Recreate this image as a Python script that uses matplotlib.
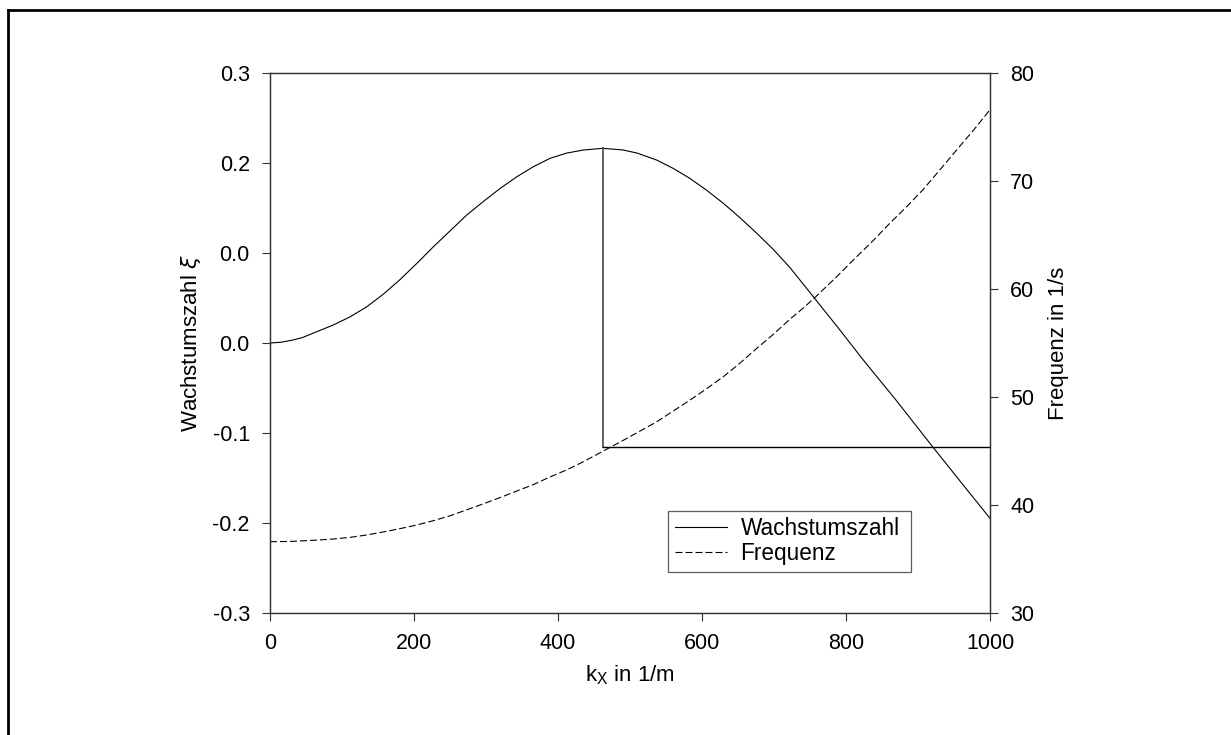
import matplotlib.pyplot as plt
from matplotlib.lines import Line2D

plt.rcParams['font.family'] = ['Liberation Sans', 'DejaVu Sans']
plt.rcParams['lines.scale_dashes'] = False

# growth rate (left axis)
kx_xi = [0, 15, 30, 45, 65, 88, 111, 134, 157, 180, 204, 227, 250, 273, 296, 320, 343, 366,
         389, 412, 435, 462, 490, 510, 537, 560, 583, 606, 630, 653, 676, 699, 722, 740,
         755, 790, 824, 870, 921, 960, 1000]
xi = [0.0, 0.0008, 0.003, 0.006, 0.0126, 0.02, 0.029, 0.04, 0.054, 0.07, 0.0885, 0.107,
      0.1245, 0.142, 0.157, 0.172, 0.1848, 0.196, 0.2052, 0.211, 0.2144, 0.2163, 0.2145,
      0.211, 0.2033, 0.194, 0.183, 0.17, 0.155, 0.139, 0.122, 0.104, 0.084, 0.066,
      0.051, 0.016, -0.0189, -0.064, -0.116, -0.155, -0.1948]

# frequency (right axis)
kx_f = [0, 30, 65, 88, 111, 134, 157, 180, 204, 227, 250, 273, 296, 320, 343, 366, 389,
        412, 435, 463, 491, 537, 560, 583, 606, 630, 653, 676, 699, 722, 740, 755, 785,
        815, 838, 861, 884, 907, 930, 954, 977, 1000]
freq = [36.6, 36.63, 36.75, 36.85, 37.0, 37.22, 37.5, 37.8, 38.15, 38.55, 39.0, 39.55,
        40.1, 40.7, 41.3, 41.9, 42.6, 43.25, 44.0, 45.0, 46.0, 47.7, 48.7, 49.7, 50.75,
        51.9, 53.15, 54.5, 55.8, 57.2, 58.2, 59.1, 61.0, 63.0, 64.5, 66.1, 67.6, 69.2,
        71.0, 72.9, 74.7, 76.6]

# marker lines at the maximum
k_max = 462
xi_max = 0.2163
xi_level = -0.1159

left_ticks = [-0.3, -0.2, -0.1, 0.0, 0.1, 0.2, 0.3]
left_labels = ['-0.3', '-0.2', '-0.1', '0.0', '0.0', '0.2', '0.3']
right_ticks = [30, 40, 50, 60, 70, 80]
x_ticks = [0, 200, 400, 600, 800, 1000]

fs_tick = 15.5
fs_label = 16
fs_leg = 16.3

fig = plt.figure(figsize=(12.31, 7.35), dpi=100)
ax = fig.add_axes([270 / 1231, 1 - 613 / 735, 720 / 1231, 540 / 735])
ax2 = ax.twinx()

l1, = ax.plot(kx_xi, xi, color='black', lw=0.8, label='Wachstumszahl')
l2, = ax2.plot(kx_f, freq, color='black', lw=0.8, linestyle=(0, (5, 2.2)), label='Frequenz')
ax.plot([k_max, k_max], [xi_level, xi_max], color='#555555', lw=1.3)
ax.plot([k_max, 1000], [xi_level, xi_level], color='black', lw=1.0)

ax.set_xlim(0, 1000)
ax.set_ylim(-0.3, 0.3)
ax2.set_ylim(30, 80)
ax.set_xticks(x_ticks)
ax.set_yticks(left_ticks)
ax.set_yticklabels(left_labels)
ax2.set_yticks(right_ticks)

for a in (ax, ax2):
    a.tick_params(direction='out', length=6, width=0.8, labelsize=fs_tick,
                  color='#333333', pad=8.5)
    for s in a.spines.values():
        s.set_linewidth(0.9)
        s.set_color('#333333')

ax.set_xlabel(r'k$_\mathregular{X}$ in 1/m', fontsize=fs_label, labelpad=7)
ax.set_ylabel(r'Wachstumszahl $\xi$', fontsize=fs_label, labelpad=7)
ax2.set_ylabel('Frequenz in 1/s', fontsize=fs_label, labelpad=10)

leg = ax.legend([l1, l2], ['Wachstumszahl', 'Frequenz'], loc='lower left',
                bbox_to_anchor=(0.553, 0.076, 0.3375, 0.128), mode='expand',
                fontsize=fs_leg, frameon=True, fancybox=False, handlelength=2.3,
                handletextpad=0.6, borderpad=0.3, labelspacing=0.08, borderaxespad=0)
leg.get_frame().set_edgecolor('#333333')
leg.get_frame().set_linewidth(0.9)

# page frame: only top and left edges
fig.add_artist(Line2D([8 / 1231, 8 / 1231], [0, 1 - 10 / 735], color='black', lw=2, transform=fig.transFigure))
fig.add_artist(Line2D([8 / 1231, 1], [1 - 10 / 735, 1 - 10 / 735], color='black', lw=2, transform=fig.transFigure))

plt.savefig('out.png', dpi=100)
